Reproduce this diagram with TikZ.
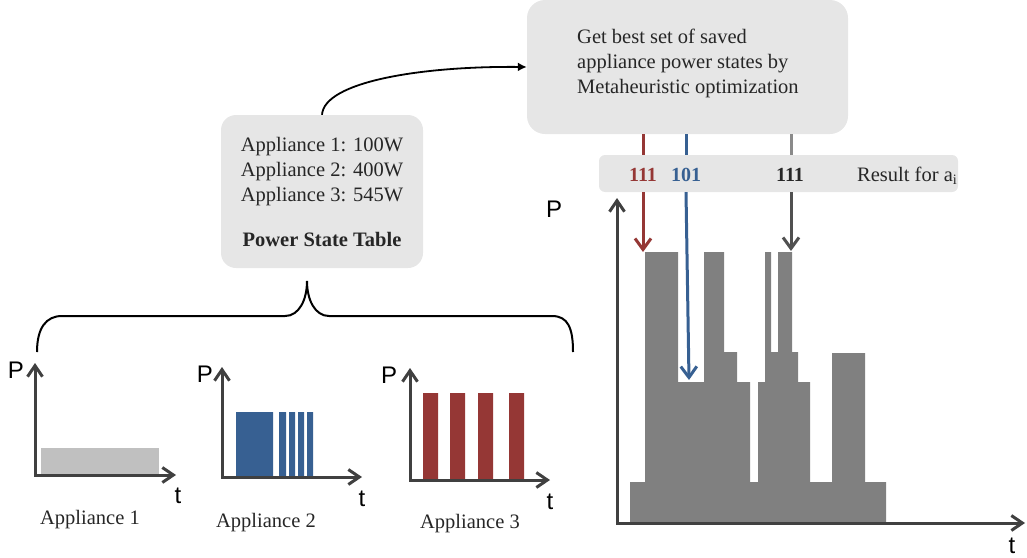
\documentclass[tikz,border=0pt]{standalone}
\usepackage{fontspec}
\setmainfont{Liberation Serif}
\newfontfamily\axisfont{Liberation Sans}
\usetikzlibrary{arrows.meta}

\definecolor{boxgray}{HTML}{E6E6E6}
\definecolor{axisgray}{HTML}{404040}
\definecolor{loadgray}{HTML}{808080}
\definecolor{lightload}{HTML}{C0C0C0}
\definecolor{appblue}{HTML}{376092}
\definecolor{appred}{HTML}{953735}
\definecolor{inkgray}{HTML}{262626}
\definecolor{linkgray}{HTML}{8A8A8A}
\definecolor{darklink}{HTML}{505050}

\tikzset{
  panel/.style={fill=boxgray, draw=none, rounded corners=18pt},
  serif/.style={font=\fontsize{20.5}{25}\selectfont, text=inkgray},
  caption/.style={font=\fontsize{20.5}{25}\selectfont, text=inkgray, inner sep=0pt, anchor=base},
  axis/.style={draw=axisgray, line width=3pt, line join=miter,
    {Straight Barb[length=11pt,width=15pt]}-{Straight Barb[length=11pt,width=15pt]}},
  axislabel/.style={font=\axisfont\fontsize{24}{24}\selectfont, text=black, inner sep=0pt},
  result/.style={font=\fontsize{20}{20}\selectfont\bfseries, inner sep=0pt, anchor=base},
  pick/.style={line width=3pt},
  pickhead/.style={pick, -{Straight Barb[length=11pt,width=16pt]}},
}

\begin{document}
\begin{tikzpicture}[x=1pt,y=-1pt]
\useasboundingbox (0,0) rectangle (1027,557);

% ---------- optimisation step ----------
\node[panel, minimum width=321pt, minimum height=134pt] (opt) at (687.5,67) {};
\node[serif, align=left, anchor=west, inner sep=0pt] (opttext) at (577,63)
  {Get best set of saved\\appliance power states by\\Metaheuristic optimization};

% ---------- power state table ----------
\node[panel, rounded corners=15pt, minimum width=202pt, minimum height=153pt,
      serif, align=center] (pst) at (322,191.5)
  {Appliance 1: 100W\\Appliance 2: 400W\\Appliance 3: 545W\\[20pt]\textbf{Power State Table}};

\draw[line width=1.8pt, -{Latex[length=9pt,width=9pt]}]
  (pst.north) .. controls (324,82) and (420,66) .. (opt.west);

% ---------- brace gathering the appliances ----------
\coordinate (bracetip) at (307,281);
\coordinate (braceleft) at (37,352);
\coordinate (braceright) at (573,352);
\draw[line width=2pt]
  (braceleft) .. controls (37,328) and (46,316) .. (62,316) -- (285,316)
  .. controls (299,316) and (307,300) .. (bracetip)
  .. controls (307,300) and (315,316) .. (329,316) -- (552,316)
  .. controls (568,316) and (573,328) .. (braceright);

% ---------- appliance 1 ----------
\fill[lightload] (41,448) rectangle (159,475);
\coordinate (a1p) at (35,363);
\coordinate (a1o) at (35,475);
\coordinate (a1t) at (176,475);
\draw[axis] (a1p) -- (a1o) -- (a1t);
\node[axislabel] (a1P) at (16,370) {P};
\node[axislabel] (a1T) at (178,496) {t};
\node[caption] (a1name) at (90,524) {Appliance 1};

% ---------- appliance 2 ----------
\fill[appblue] (236,412) rectangle (273,477)
               (279,412) rectangle (286,477)
               (289,412) rectangle (295,477)
               (298,412) rectangle (304,477)
               (307,412) rectangle (313,477);
\coordinate (a2p) at (222,367);
\coordinate (a2o) at (222,477);
\coordinate (a2t) at (362,477);
\draw[axis] (a2p) -- (a2o) -- (a2t);
\node[axislabel] (a2P) at (205,374) {P};
\node[axislabel] (a2T) at (362,499) {t};
\node[caption] (a2name) at (266,527) {Appliance 2};

% ---------- appliance 3 ----------
\fill[appred] (423,393) rectangle (438,480)
              (450,393) rectangle (465,480)
              (478,393) rectangle (493,480)
              (509,393) rectangle (524,480);
\coordinate (a3p) at (410,368);
\coordinate (a3o) at (410,480);
\coordinate (a3t) at (550,480);
\draw[axis] (a3p) -- (a3o) -- (a3t);
\node[axislabel] (a3P) at (389,375) {P};
\node[axislabel] (a3T) at (550,502) {t};
\node[caption] (a3name) at (470,528) {Appliance 3};

% ---------- aggregated load ----------
\fill[loadgray]
  (630,523) -- (630,482) -- (645,482) -- (645,252) -- (678,252) -- (678,382)
  -- (704,382) -- (704,252) -- (724,252) -- (724,352) -- (737,352) -- (737,382)
  -- (750,382) -- (750,482) -- (758,482) -- (758,382) -- (765,382) -- (765,252)
  -- (771,252) -- (771,352) -- (778,352) -- (778,252) -- (792,252) -- (792,352)
  -- (798,352) -- (798,382) -- (810,382) -- (810,482) -- (832,482) -- (832,353)
  -- (865,353) -- (865,482) -- (886,482) -- (886,523) -- cycle;
\coordinate (lp) at (617,198);
\coordinate (lo) at (617,523);
\coordinate (lt) at (1025,523);
\draw[axis] (lp) -- (lo) -- (lt);
\node[axislabel] (lP) at (554,209) {P};
\node[axislabel] (lT) at (1012,546) {t};

% ---------- result row ----------
\node[fill=boxgray, rounded corners=6pt, minimum width=359pt, minimum height=37pt] (res) at (778.5,173.5) {};
\node[result, text=appred] (r1) at (643,181) {111};
\node[result, text=appblue] (r2) at (686,181) {101};
\node[result, text=inkgray] (r3) at (790,181) {111};
\node[caption, anchor=base west] (rlabel) at (857,181) {Result for a\textsubscript{i}};

\coordinate (redhit) at (643,252);
\coordinate (bluehit) at (689,380);
\coordinate (grayhit) at (791,251);

\draw[pick, appred] (r1.center |- opt.south) -- (r1.center |- res.north);
\draw[pickhead, appred] (r1.center |- res.south) -- (redhit);
\draw[pick, appblue] (r2.center |- opt.south) -- (r2.center |- res.north);
\draw[pickhead, appblue] (r2.center |- res.south) -- (bluehit);
\draw[pick, linkgray] (grayhit |- opt.south) -- (grayhit |- res.north);
\draw[pickhead, darklink] (grayhit |- res.south) -- (grayhit);
\end{tikzpicture}
\end{document}
